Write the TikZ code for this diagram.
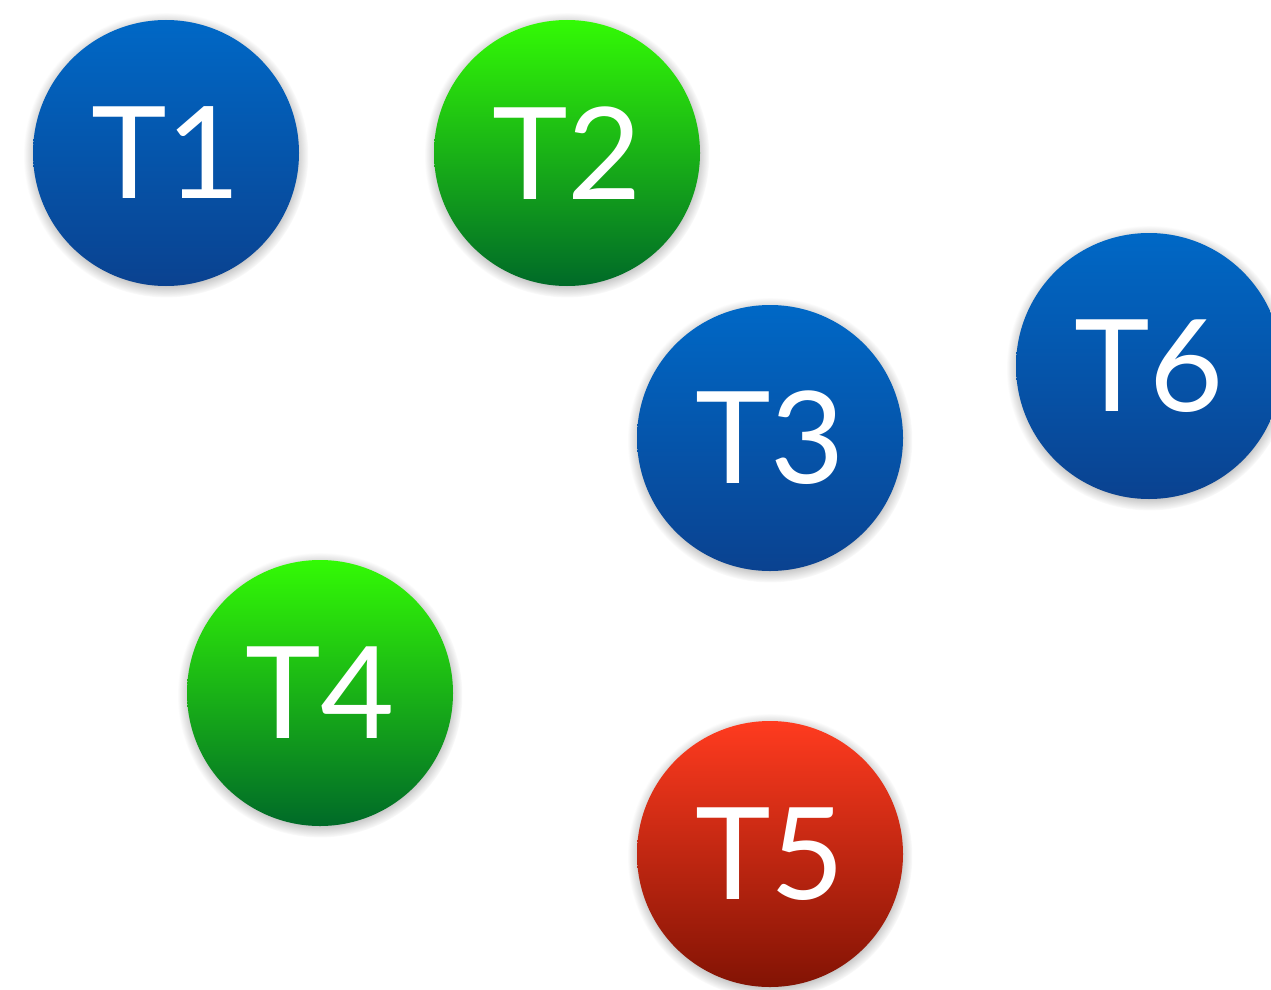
\documentclass[tikz,border=0pt]{standalone}
\usepackage{fontspec}
\setmainfont{Lato}
\usetikzlibrary{shadows}
\definecolor{blueTop}{HTML}{0068C6}
\definecolor{blueBot}{HTML}{0A4290}
\definecolor{greenTop}{HTML}{33FA05}
\definecolor{greenBot}{HTML}{006A28}
\definecolor{redTop}{HTML}{FF3B1F}
\definecolor{redBot}{HTML}{821304}
\tikzset{
  ball/.style={circle, minimum size=266pt, inner sep=0pt, text=white,
    font=\fontsize{128}{128}\selectfont,
    circular drop shadow={shadow scale=1.07, shadow xshift=0pt, shadow yshift=-2pt, opacity=.75}},
  blueball/.style={ball, top color=blueTop, bottom color=blueBot},
  greenball/.style={ball, top color=greenTop, bottom color=greenBot},
  redball/.style={ball, top color=redTop, bottom color=redBot},
}
\begin{document}
\begin{tikzpicture}[x=1pt, y=-1pt]
  \useasboundingbox (0,0) rectangle (1271,990);
  \clip (0,0) rectangle (1271,990);
  \fill[white] (0,0) rectangle (1271,990);
  \node[blueball]  (t1) at (166,153) {T1};
  \node[greenball] (t2) at (567,153) {T2};
  \node[blueball]  (t3) at (770,438) {T3};
  \node[blueball]  (t6) at (1149,366) {T6};
  \node[greenball] (t4) at (320,693) {T4};
  \node[redball]   (t5) at (770,854) {T5};
\end{tikzpicture}
\end{document}
